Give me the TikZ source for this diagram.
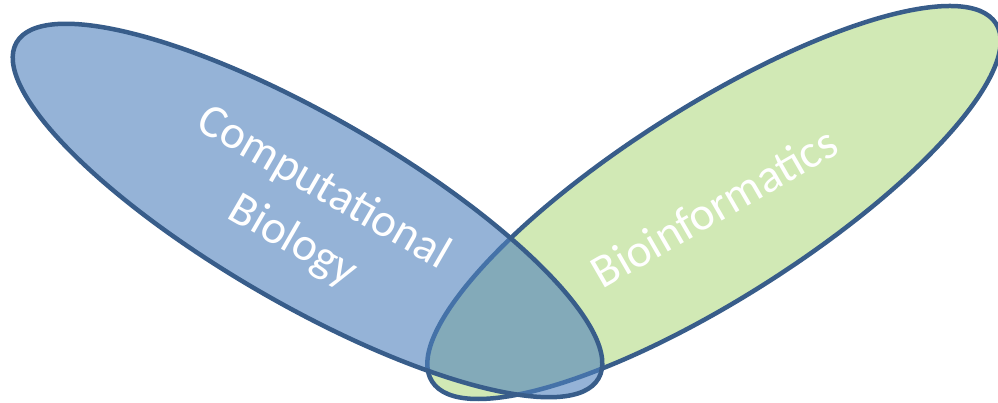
\documentclass[tikz,border=0pt]{standalone}
\usepackage{fontspec}
\setmainfont{Carlito}
\definecolor{setline}{RGB}{56,93,138}
\definecolor{bluefill}{RGB}{79,129,189}
\definecolor{greenfill}{RGB}{209,233,181}

\begin{document}
\begin{tikzpicture}[x=1pt, y=1pt,
  setedge/.style={draw=setline, line width=4.5pt},
  setlabel/.style={text=white, font=\fontsize{47}{61}\selectfont, align=center}]
\useasboundingbox (0,0) rectangle (998,403);

% bioinformatics set
\filldraw [setedge, fill=greenfill, rotate around={32.4:(714,200.5)}] (714,200.5) ellipse [x radius=334pt, y radius=96pt];
\node [setlabel, rotate=30] (bioinf) at (714,196) {Bioinformatics};

% computational biology set, laid over it
\fill [bluefill, fill opacity=0.6, rotate around={-30:(307.5,192.5)}] (307.5,192.5) ellipse [x radius=336pt, y radius=94pt];
\draw [setedge, rotate around={-30:(307.5,192.5)}] (307.5,192.5) ellipse [x radius=336pt, y radius=94pt];
\node [setlabel, rotate=-30] (compbio) at (308,188) {Computational\\Biology};

\end{tikzpicture}
\end{document}
